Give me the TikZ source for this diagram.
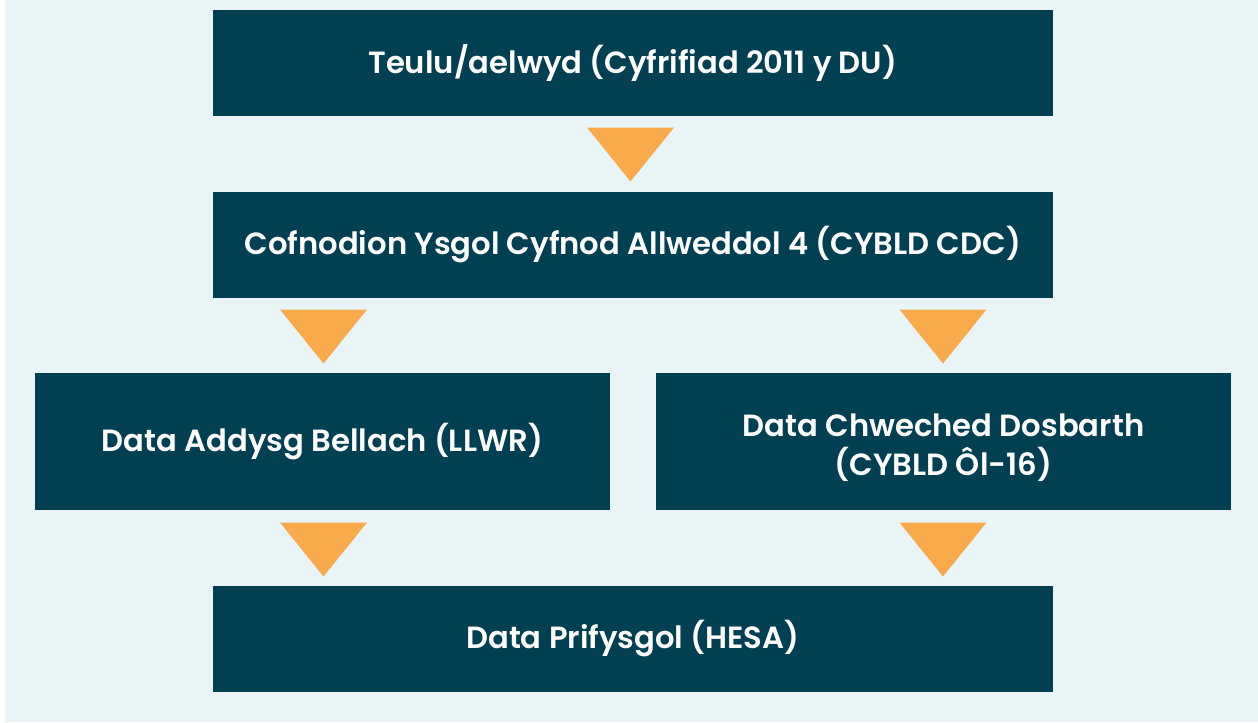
\documentclass[tikz,border=0pt]{standalone}
\usepackage{fontspec}
\setmainfont{Poppins}[BoldFont={Poppins SemiBold}]
\definecolor{boxteal}{RGB}{0,64,82}
\definecolor{tripeach}{RGB}{249,171,75}
\definecolor{backblue}{RGB}{232,244,246}
\tikzset{every picture/.style={line width=0.75pt}}
\tikzset{
  stagebox/.style={fill=boxteal,text=white,inner sep=0.75pt,align=center,
    font=\bfseries\fontsize{23}{29}\selectfont},
  downtri/.style={fill=tripeach}
}

\begin{document}
\begin{tikzpicture}[x=0.75pt,y=0.75pt,yscale=-1,xscale=1]
	\useasboundingbox (0,0) rectangle (1258,722);
	%Background
	\fill[backblue] (5,0) rectangle (1258,722);
	
	% Stage boxes
	\node [stagebox,minimum width=630pt,minimum height=79.5pt] (census) at (632.75,63) {Teulu/aelwyd (Cyfrifiad 2011 y DU)};
	\node [stagebox,minimum width=630pt,minimum height=79.5pt] (school) at (632.75,244.5) {Cofnodion Ysgol Cyfnod Allweddol 4 (CYBLD CDC)};
	\node [stagebox,minimum width=431.25pt,minimum height=102.75pt] (further) at (322.5,441.5) {Data Addysg Bellach (LLWR)};
	\node [stagebox,minimum width=431.25pt,minimum height=102.75pt] (sixth) at (943.5,441.5) {};
	\node [stagebox,fill=none] (sixthtext) at ([yshift=4.5pt]sixth.center) {Data Chweched Dosbarth\\(CYBLD Ôl-16)};
	\node [stagebox,minimum width=630pt,minimum height=79.5pt] (uni) at (632.75,639) {Data Prifysgol (HESA)};
	
	%Shape: Triangles
	\fill [downtri] (587,127.5) -- (674,127.5) -- (630.5,181.5) -- cycle ;
	\fill [downtri] (280,309.5) -- (367,309.5) -- (323.5,363.5) -- cycle ;
	\fill [downtri] (899.5,309.5) -- (986.5,309.5) -- (943,363.5) -- cycle ;
	\fill [downtri] (280,522.5) -- (367,522.5) -- (323.5,576.5) -- cycle ;
	\fill [downtri] (899.5,522.5) -- (986.5,522.5) -- (943,576.5) -- cycle ;
	
\end{tikzpicture}
\end{document}
